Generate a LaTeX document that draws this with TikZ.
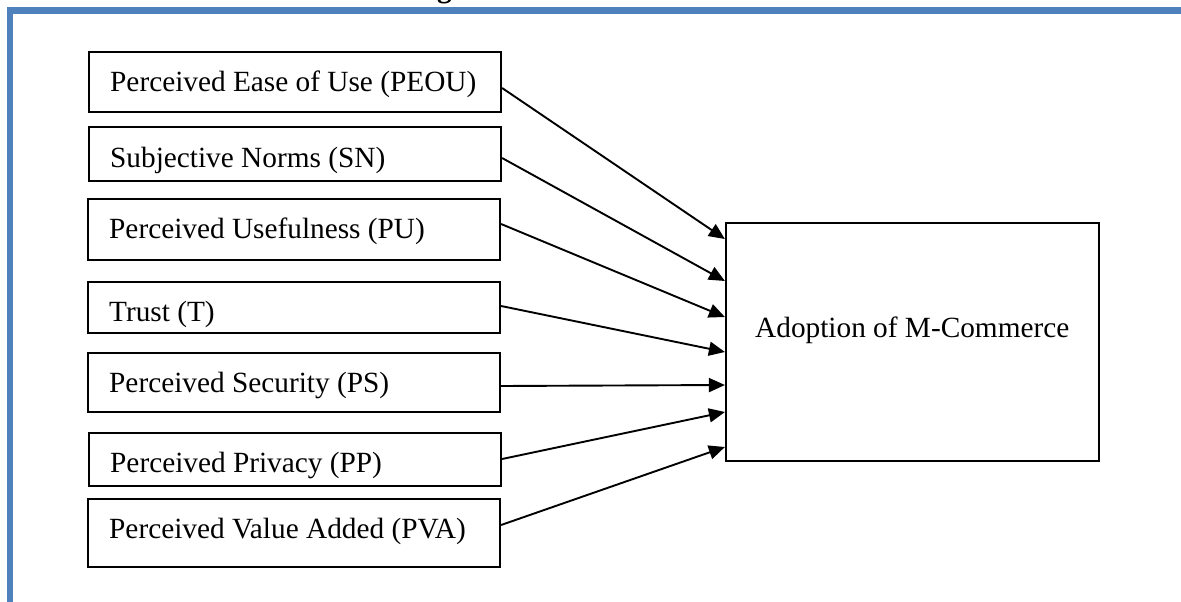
\documentclass[tikz,border=0pt]{standalone}
\usepackage{fontspec}
\setmainfont{Liberation Serif}
\usetikzlibrary{arrows.meta}
\definecolor{framblue}{RGB}{79,129,189}
\begin{document}
\begin{tikzpicture}[x=1pt,y=-1pt,
  factor/.style={draw=black,line width=2.2pt,inner sep=0pt,minimum width=412pt},
  lbl/.style={anchor=base west,inner sep=0pt,font=\fontsize{29.3}{34}\selectfont},
  conn/.style={line width=1.9pt,-{Triangle[length=16pt,width=14pt]}}]
\useasboundingbox (0,0) rectangle (1181,602);
% frame
\fill[framblue] (7,7) rectangle (1181,14);
\fill[framblue] (7,7) rectangle (13,602);
\node[anchor=base west,inner sep=0pt,font=\bfseries\fontsize{29.3}{34}\selectfont] (ttl) at (437,-2) {g};
% factor boxes
\node[factor,minimum height=60pt] (peou) at (295,82) {};
\node[factor,minimum height=54pt] (sn) at (295,154) {};
\node[factor,minimum height=61pt] (pu) at (294,229.5) {};
\node[factor,minimum height=51pt] (tr) at (294,307.5) {};
\node[factor,minimum height=59pt] (ps) at (294,382.5) {};
\node[factor,minimum height=53pt] (pp) at (295,459.5) {};
\node[factor,minimum height=68pt] (pva) at (294,533) {};
% labels
\node[lbl] (tpeou) at (110,92) {Perceived Ease of Use (PEOU)};
\node[lbl] (tsn) at (110,167) {Subjective Norms (SN)};
\node[lbl] (tpu) at (109,238) {Perceived Usefulness (PU)};
\node[lbl] (ttr) at (109,321) {Trust (T)};
\node[lbl] (tps) at (109,392) {Perceived Security (PS)};
\node[lbl] (tpp) at (110,472) {Perceived Privacy (PP)};
\node[lbl] (tpva) at (109,538) {Perceived Value Added (PVA)};
% outcome box
\node[draw=black,line width=2.2pt,inner sep=0pt,minimum width=373pt,minimum height=238pt] (adopt) at (912.5,342) {};
\node[lbl] (tadopt) at (755,337) {Adoption of M-Commerce};
% connectors
\draw[conn] ([yshift=-6pt]peou.east) -- ([yshift=103pt]adopt.west);
\draw[conn] ([yshift=-4pt]sn.east) -- ([yshift=61pt]adopt.west);
\draw[conn] ([yshift=5.5pt]pu.east) -- ([yshift=25pt]adopt.west);
\draw[conn] ([yshift=1.5pt]tr.east) -- ([yshift=-10pt]adopt.west);
\draw[conn] ([yshift=-3.5pt]ps.east) -- ([yshift=-43pt]adopt.west);
\draw[conn] ([yshift=0.5pt]pp.east) -- ([yshift=-70pt]adopt.west);
\draw[conn] ([yshift=8pt]pva.east) -- ([yshift=-105pt]adopt.west);
\end{tikzpicture}
\end{document}
